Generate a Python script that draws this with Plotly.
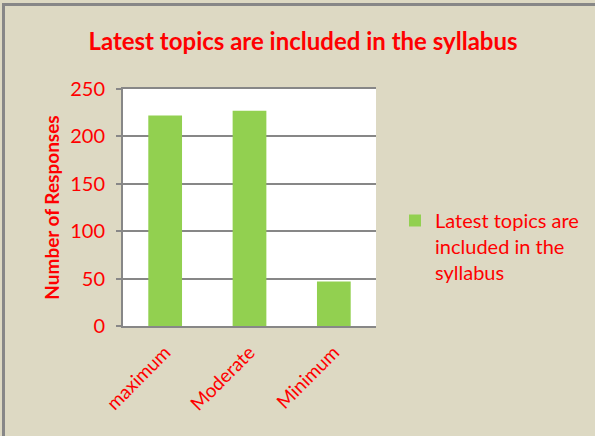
import plotly.graph_objects as go

categories = ["maximum", "Moderate", "Minimum"]
values = [222, 227, 47]
series_name = "Latest topics are<br>included in the<br>syllabus"
title_text = "Latest topics are included in the syllabus"
y_title = "Number of Responses"
y_ticks = [0, 50, 100, 150, 200, 250]

W, H = 595, 436
L, R, T, B = 123, 219, 89, 110
pw, ph = W - L - R, H - T - B

red = "#FF0000"
grey = "#878787"
bg = "#DDD9C3"
font = "Lato, 'Open Sans', sans-serif"

fig = go.Figure(go.Bar(
    x=categories, y=values, name=series_name,
    marker=dict(color="#92D050", line=dict(width=0)),
    width=0.4, showlegend=True,
))

fig.update_layout(
    width=W, height=H,
    margin=dict(l=L, r=R, t=T, b=B, autoexpand=False),
    paper_bgcolor=bg, plot_bgcolor="white",
    font=dict(family=font, color=red),
    title=dict(text="<b>" + title_text + "</b>", x=303 / W, xanchor="center",
               y=1 - 42 / H, yanchor="middle",
               font=dict(size=24, color=red, family=font)),
    showlegend=True,
    legend=dict(x=(395 - L) / pw, y=(326 - 201) / ph, xanchor="left", yanchor="top",
                font=dict(size=20, color=red, family=font), bgcolor="rgba(0,0,0,0)",
                itemwidth=30, valign="top"),
    xaxis=dict(showline=True, mirror=True, linecolor=grey, linewidth=2, ticks="",
               tickangle=-45, tickfont=dict(size=19, color=red, family=font),
               ticklabelstandoff=6, showgrid=False),
    yaxis=dict(range=[0, 250], tickvals=y_ticks, showline=True, linecolor=grey,
               linewidth=2, ticks="outside", ticklen=5, tickcolor=grey, tickwidth=2,
               showgrid=True, gridcolor=grey, gridwidth=1.5,
               ticklabelstandoff=7,
               tickfont=dict(size=20, color=red, family=font),
               title=dict(text="<b>" + y_title + "</b>", standoff=6,
                          font=dict(size=19, color=red, family=font))),
    bargap=0.6,
    shapes=[dict(type="rect", xref="paper", yref="paper",
                 x0=(3.5 - L) / pw, x1=(W + 10 - L) / pw,
                 y0=(326 - H - 10) / ph, y1=(326 - 4.5) / ph,
                 line=dict(color=grey, width=3), fillcolor="rgba(0,0,0,0)", layer="above")],
)

fig.write_html("out.html", config={"displayModeBar": False},
               post_script="document.body.style.margin='0';document.body.style.overflow='hidden';")
